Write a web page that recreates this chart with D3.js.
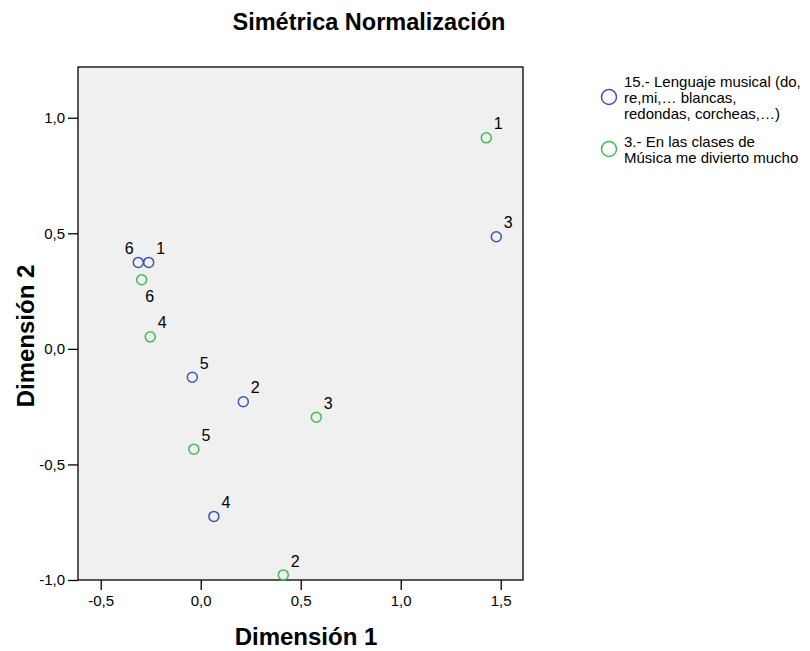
<!DOCTYPE html>
<html>
<head>
<meta charset="utf-8">
<script src="https://cdn.jsdelivr.net/npm/d3@7"></script>
<style>
  html, body { margin: 0; padding: 0; background: #fff; }
  svg { display: block; font-family: "Liberation Sans", Arial, sans-serif; }
</style>
</head>
<body>
<svg id="chart" width="810" height="651"></svg>
<script>
// Category codes shared by both variables
const categories = ["1", "2", "3", "4", "5", "6"];

// 15.- Lenguaje musical: coordinates on dimension 1 and 2
const lenguajeDim1 = [-0.260, 0.213, 1.478, 0.066, -0.042, -0.312];
const lenguajeDim2 = [0.374, -0.229, 0.485, -0.725, -0.123, 0.374];

// 3.- En las clases de Música me divierto mucho
const diviertoDim1 = [1.428, 0.413, 0.578, -0.252, -0.034, -0.295];
const diviertoDim2 = [0.913, -0.978, -0.296, 0.052, -0.434, 0.299];

const xTicks = [-0.5, 0.0, 0.5, 1.0, 1.5];
const yTicks = [-1.0, -0.5, 0.0, 0.5, 1.0];

const seriesNames = [
  ["15.- Lenguaje musical (do,", "re,mi,\u2026 blancas,", "redondas, corcheas,\u2026)"],
  ["3.- En las clases de", "M\u00fasica me divierto mucho"]
];

const colors = ["#3e54b2", "#3dbf4b"];

const svg = d3.select("#chart");
const plot = { left: 78, right: 523, top: 67, bottom: 580 };

const x = d3.scaleLinear().domain([-0.6135, 1.6115]).range([plot.left, plot.right]);
const y = d3.scaleLinear().domain([-1.0, 1.2195]).range([plot.bottom, plot.top]);
// decimal comma and a plain hyphen for negatives
const fmt = v => d3.format(".1f")(v).replace(".", ",").replace("\u2212", "-");

// plot background
svg.append("rect")
  .attr("x", plot.left).attr("y", plot.top)
  .attr("width", plot.right - plot.left).attr("height", plot.bottom - plot.top)
  .attr("fill", "#f0f0f0").attr("stroke", "none");

// axes
const xAxis = svg.append("g")
  .attr("transform", `translate(0,${plot.bottom})`)
  .call(d3.axisBottom(x).tickValues(xTicks).tickFormat(fmt).tickSize(10).tickPadding(5));
const yAxis = svg.append("g")
  .attr("transform", `translate(${plot.left},0)`)
  .call(d3.axisLeft(y).tickValues(yTicks).tickFormat(fmt).tickSize(10).tickPadding(3));

[xAxis, yAxis].forEach(g => {
  g.select(".domain").remove();
  g.selectAll(".tick line").attr("stroke", "#000").attr("stroke-width", 1.3);
  g.selectAll(".tick text")
    .attr("fill", "#000")
    .style("font-family", "'Liberation Sans', Arial, sans-serif")
    .style("font-size", "15px");
});

// frame
svg.append("rect")
  .attr("x", plot.left).attr("y", plot.top)
  .attr("width", plot.right - plot.left).attr("height", plot.bottom - plot.top)
  .attr("fill", "none").attr("stroke", "#000").attr("stroke-width", 1.3);

// label placement around each point (dx, dy from the marker centre)
const labelOffsets = [
  { "1": [12, -14], "2": [12, -14], "3": [12, -14], "4": [12, -14], "5": [12, -14], "6": [-9, -14] },
  { "1": [12, -14], "2": [12, -14], "3": [12, -14], "4": [12, -14], "5": [12, -14], "6": [8, 17] }
];

const series = [
  { dim1: lenguajeDim1, dim2: lenguajeDim2 },
  { dim1: diviertoDim1, dim2: diviertoDim2 }
];

series.forEach((s, si) => {
  const pts = categories.map((c, i) => ({ cat: c, d1: s.dim1[i], d2: s.dim2[i] }));
  const g = svg.append("g");
  g.selectAll("circle").data(pts).join("circle")
    .attr("cx", d => x(d.d1)).attr("cy", d => y(d.d2))
    .attr("r", 5)
    .attr("fill", "none")
    .attr("stroke", colors[si])
    .attr("stroke-width", 1.5);
  g.selectAll("text").data(pts).join("text")
    .attr("x", d => x(d.d1) + labelOffsets[si][d.cat][0])
    .attr("y", d => y(d.d2) + labelOffsets[si][d.cat][1])
    .attr("dy", "0.35em")
    .attr("text-anchor", "middle")
    .attr("fill", "#000")
    .style("font-size", "16px")
    .text(d => d.cat);
});

// title
svg.append("text")
  .attr("x", 369).attr("y", 30)
  .attr("text-anchor", "middle")
  .style("font-size", "23.5px").style("font-weight", "bold")
  .text("Sim\u00e9trica Normalizaci\u00f3n");

// axis titles
svg.append("text")
  .attr("x", 306).attr("y", 645)
  .attr("text-anchor", "middle")
  .style("font-size", "24px").style("font-weight", "bold")
  .text("Dimensi\u00f3n 1");
svg.append("text")
  .attr("transform", "translate(34,336) rotate(-90)")
  .attr("text-anchor", "middle")
  .style("font-size", "24px").style("font-weight", "bold")
  .text("Dimensi\u00f3n 2");

// legend
const legendTop = [87, 147];
seriesNames.forEach((lines, si) => {
  const g = svg.append("g");
  const cy = si === 0 ? 97 : 149;
  g.append("circle")
    .attr("cx", 609).attr("cy", cy).attr("r", 7.5)
    .attr("fill", "none").attr("stroke", colors[si]).attr("stroke-width", 1.5);
  lines.forEach((t, li) => {
    g.append("text")
      .attr("x", 624).attr("y", legendTop[si] + li * 16)
      .style("font-size", "15px")
      .attr("fill", "#000")
      .text(t);
  });
});
</script>
</body>
</html>
